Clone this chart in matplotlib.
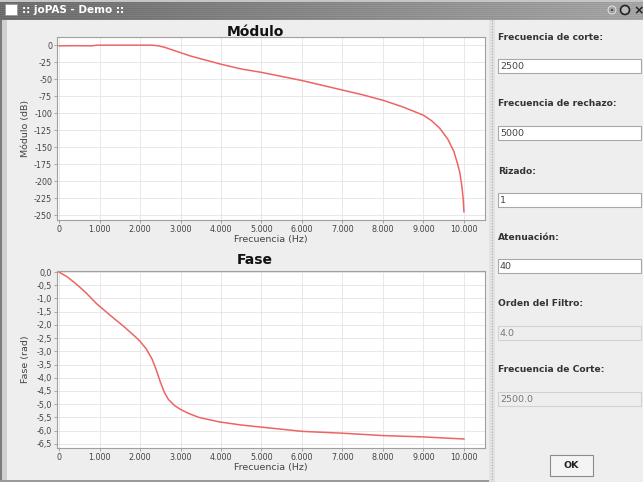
import matplotlib
matplotlib.use("Agg")
from matplotlib import pyplot as plt
from matplotlib.patches import Rectangle
from matplotlib.ticker import FuncFormatter, MultipleLocator
import numpy as np

# magnitude response (Hz, dB)
mod_freq = [0, 400, 800, 950, 1500, 2300, 2450, 2600, 2750, 3000, 3250, 3500,
            4000, 4500, 5000, 5500, 6000, 6500, 7000, 7500, 8000, 8500, 9000,
            9200, 9400, 9600, 9750, 9850, 9900, 9950, 9980, 10000]
mod_db = [-1, -0.8, -1, 0, 0, 0, -1, -3, -6, -11, -16, -20,
          -28, -35, -40, -46, -52, -59, -66, -73, -81, -91, -103,
          -111, -122, -138, -156, -176, -188, -208, -225, -245]

# phase response (Hz, rad)
fase_freq = [0, 200, 400, 650, 930, 1250, 1600, 1900, 2000, 2150, 2300, 2400,
             2500, 2600, 2700, 2850, 3000, 3200, 3450, 3950, 4500, 5000, 6000,
             7000, 8000, 9000, 10000]
fase_rad = [0, -0.18, -0.42, -0.76, -1.2, -1.62, -2.06, -2.47, -2.62, -2.9, -3.3, -3.7,
            -4.15, -4.55, -4.82, -5.05, -5.2, -5.35, -5.5, -5.67, -5.79, -5.87, -6.03,
            -6.1, -6.19, -6.24, -6.32]

# side panel
panel_labels = ["Frecuencia de corte:", "Frecuencia de rechazo:", "Rizado:",
                "Atenuación:", "Orden del Filtro:", "Frecuencia de Corte:"]
panel_values = ["2500", "5000", "1", "40", "4.0", "2500.0"]
panel_editable = [True, True, True, True, False, False]

W, H = 643, 482
fig = plt.figure(figsize=(W / 100, H / 100), dpi=100)
fig.patch.set_facecolor("#eeeeee")

# background axes in pixel coordinates
bg = fig.add_axes([0, 0, 1, 1])
bg.set_xlim(0, W)
bg.set_ylim(H, 0)
bg.axis("off")
bg.set_zorder(-1)

# title bar (striped grey gradient)
shade = np.linspace(0.40, 0.62, 300)[None, :] + 0.05 * (np.arange(20)[:, None] % 2)
shade[:2, :] = 0.78
tb = np.dstack([shade, shade, shade])
bg.imshow(np.clip(tb, 0, 1), extent=(0, W, 20, 0), aspect="auto", interpolation="bilinear")
bg.add_patch(Rectangle((5, 4), 12, 11, facecolor="white", edgecolor="#999999", lw=0.6))
bg.text(22, 10, ":: joPAS - Demo ::", color="white", fontsize=7.5,
        fontweight="bold", va="center", ha="left")
bg.add_patch(plt.Circle((612, 10), 4, facecolor="none", edgecolor="#eeeeee", lw=0.6))
bg.add_patch(plt.Circle((612, 10), 0.9, facecolor="#222222", lw=0))
bg.add_patch(plt.Circle((625, 10), 4.5, facecolor="#bbbbbb", edgecolor="#222222", lw=1.2))
bg.text(639, 10.5, "×", color="#222222", fontsize=9, fontweight="bold", va="center", ha="center")

# window borders
bg.add_patch(Rectangle((0, 20), 2, H - 20, facecolor="#7a7a7a", lw=0))
bg.add_patch(Rectangle((2, 20), 5, H - 20, facecolor="#cfcfcf", lw=0))
bg.add_patch(Rectangle((0, H - 2), 490, 2, facecolor="#9a9a9a", lw=0))

# split pane divider
bg.add_patch(Rectangle((489, 20), 6, H - 20, facecolor="#e2e2e2", lw=0))
bg.plot([492, 492], [20, H], color="#aaaaaa", lw=0.8, ls=(0, (1, 1.5)))

# side panel widgets
label_y = [37, 104, 171, 237, 304, 370]
for i, lab in enumerate(panel_labels):
    y = label_y[i]
    bg.text(498, y, lab, fontsize=6.6, fontweight="bold", color="#333333",
            va="center", ha="left")
    top = y + 22
    if panel_editable[i]:
        fc, ec, tc = "white", "#a8a8a8", "#444444"
    else:
        fc, ec, tc = "#eeeeee", "#d2d2d2", "#777777"
    bg.add_patch(Rectangle((498, top), 143, 14, facecolor=fc, edgecolor=ec, lw=0.8))
    bg.text(500, top + 7.5, panel_values[i], fontsize=6.8, color=tc,
            va="center", ha="left")

bg.add_patch(Rectangle((550, 455), 43, 21, facecolor="#f4f4f4", edgecolor="#8c8c8c", lw=0.8))
bg.text(571.5, 465.5, "OK", fontsize=6.8, fontweight="bold", color="#222222",
        va="center", ha="center")


def style_axes(ax, ylo, yhi, ystep, yfmt):
    ax.set_facecolor("white")
    ax.set_xlim(-50, 10520)
    ax.set_ylim(ylo, yhi)
    ax.xaxis.set_major_locator(MultipleLocator(1000))
    ax.yaxis.set_major_locator(MultipleLocator(ystep))
    ax.xaxis.set_major_formatter(FuncFormatter(lambda v, p: f"{int(round(v)):,}".replace(",", ".")))
    ax.yaxis.set_major_formatter(FuncFormatter(yfmt))
    ax.grid(True, color="#e4e4e4", lw=0.6)
    ax.set_axisbelow(True)
    for s in ax.spines.values():
        s.set_color("#a0a0a0")
        s.set_linewidth(0.8)
    ax.tick_params(length=2, width=0.5, color="#888888", pad=1.5,
                   labelsize=5.8, labelcolor="#444444")


def px_axes(left, top, right, bottom):
    return fig.add_axes([left / W, 1 - bottom / H, (right - left) / W, (bottom - top) / H])


# Módulo chart
ax1 = px_axes(57, 37, 485, 220)
ax1.plot(mod_freq, mod_db, color="#ee6464", lw=1.1)
style_axes(ax1, -257, 12, 25, lambda v, p: f"{int(round(v))}")
ax1.set_xlabel("Frecuencia (Hz)", fontsize=6.8, color="#444444")
ax1.set_ylabel("Módulo (dB)", fontsize=6.8, color="#444444")
ax1.xaxis.set_label_coords(0.5, -0.082)
ax1.yaxis.set_label_coords(-0.062, 0.5)
bg.text(255, 32, "Módulo", fontsize=10, fontweight="bold", ha="center", va="center", color="#111111")

# Fase chart
ax2 = px_axes(57, 271, 485, 448)
ax2.plot(fase_freq, fase_rad, color="#ee6464", lw=1.1)
style_axes(ax2, -6.66, 0.04, 0.5, lambda v, p: f"{v:.1f}".replace(".", ",").replace("-0,0", "0,0"))
ax2.set_xlabel("Frecuencia (Hz)", fontsize=6.8, color="#444444")
ax2.set_ylabel("Fase (rad)", fontsize=6.8, color="#444444")
ax2.xaxis.set_label_coords(0.5, -0.082)
ax2.yaxis.set_label_coords(-0.062, 0.5)
bg.text(255, 260, "Fase", fontsize=10, fontweight="bold", ha="center", va="center", color="#111111")

fig.savefig("out.png", dpi=100, facecolor=fig.get_facecolor())
